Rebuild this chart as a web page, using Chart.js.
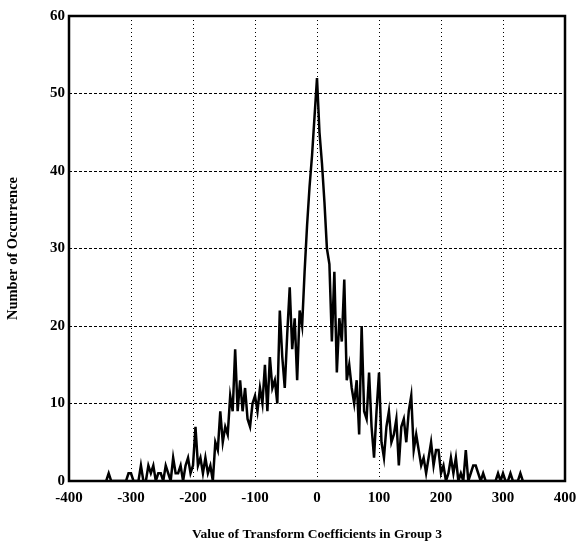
<!DOCTYPE html>
<html>
<head>
<meta charset="utf-8">
<script src="https://cdn.jsdelivr.net/npm/chart.js@4/dist/chart.umd.min.js"></script>
<style>
  html, body { margin: 0; padding: 0; background: #fff; }
  #wrap { width: 578px; height: 550px; }
</style>
</head>
<body>
<div id="wrap"><canvas id="myChart"></canvas></div>
<script>
// Histogram of transform coefficient values (bin centres, step 4)
const binCenters = [
  -340, -336, -332, -328, -324, -320, -316, -312, -308, -304, -300, -296, -292, -288,
  -284, -280, -276, -272, -268, -264, -260, -256, -252, -248, -244, -240, -236, -232,
  -228, -224, -220, -216, -212, -208, -204, -200, -196, -192, -188, -184, -180, -176,
  -172, -168, -164, -160, -156, -152, -148, -144, -140, -136, -132, -128, -124, -120,
  -116, -112, -108, -104, -100, -96, -92, -88, -84, -80, -76, -72, -68, -64,
  -60, -56, -52, -48, -44, -40, -36, -32, -28, -24, -20, -16, -12, -8,
  -4, 0, 4, 8, 12, 16, 20, 24, 28, 32, 36, 40, 44, 48,
  52, 56, 60, 64, 68, 72, 76, 80, 84, 88, 92, 96, 100, 104,
  108, 112, 116, 120, 124, 128, 132, 136, 140, 144, 148, 152, 156, 160,
  164, 168, 172, 176, 180, 184, 188, 192, 196, 200, 204, 208, 212, 216,
  220, 224, 228, 232, 236, 240, 244, 248, 252, 256, 260, 264, 268, 272,
  276, 280, 284, 288, 292, 296, 300, 304, 308, 312, 316, 320, 324, 328, 332
];
const counts = [
  0, 1, 0, 0, 0, 0, 0, 0, 0, 1, 1, 0, 0, 0,
  2, 0, 0, 2, 1, 2, 0, 1, 1, 0, 2, 1, 0, 3,
  1, 1, 2, 0, 2, 3, 1, 2, 7, 2, 3, 1, 3, 1,
  2, 0, 5, 4, 9, 5, 7, 6, 11, 9, 17, 9, 13, 9,
  12, 8, 7, 10, 11, 9, 12, 10, 15, 9, 16, 12, 13, 10,
  22, 16, 12, 19, 25, 17, 21, 13, 22, 20, 27, 33, 38, 42,
  47, 52, 45, 41, 36, 30, 28, 18, 27, 14, 21, 18, 26, 13,
  15, 12, 10, 13, 6, 20, 9, 8, 14, 7, 3, 9, 14, 5,
  3, 7, 9, 5, 6, 8, 2, 7, 8, 5, 9, 11, 4, 6,
  4, 2, 3, 1, 3, 5, 2, 4, 4, 1, 2, 0, 1, 3,
  1, 3, 0, 1, 0, 4, 0, 1, 2, 2, 1, 0, 1, 0,
  0, 0, 0, 0, 1, 0, 1, 0, 0, 1, 0, 0, 0, 1, 0
];
const xTicks = [-400, -300, -200, -100, 0, 100, 200, 300, 400];
const yTicks = [0, 10, 20, 30, 40, 50, 60];

const font = 'Liberation Serif, Times New Roman, serif';

// solid frame around the plot area
const framePlugin = {
  id: 'frame',
  afterDraw(chart) {
    const { ctx, chartArea: a } = chart;
    ctx.save();
    ctx.strokeStyle = '#000';
    ctx.lineWidth = 2.5;
    ctx.strokeRect(a.left, a.top, a.right - a.left, a.bottom - a.top);
    ctx.restore();
  }
};

document.addEventListener('DOMContentLoaded', () => {
  const ctx = document.getElementById('myChart').getContext('2d');
  new Chart(ctx, {
    type: 'scatter',
    data: {
      datasets: [{
        data: binCenters.map((x, i) => ({ x: x, y: counts[i] })),
        showLine: true,
        borderColor: '#000',
        borderWidth: 2.5,
        pointRadius: 0,
        tension: 0
      }]
    },
    options: {
      responsive: true,
      maintainAspectRatio: false,
      animation: false,
      layout: { padding: { top: 16, right: 13, left: 0, bottom: 0 } },
      plugins: { legend: { display: false }, tooltip: { enabled: false } },
      scales: {
        x: {
          type: 'linear',
          min: -400,
          max: 400,
          afterBuildTicks: s => { s.ticks = xTicks.map(v => ({ value: v })); },
          afterFit: s => { s.height = 69; s.paddingLeft = 0; s.paddingRight = 0; },
          grid: { color: '#000', lineWidth: 1, drawTicks: false },
          border: { display: false, dash: [1, 3] },
          ticks: {
            color: '#000',
            padding: 8,
            font: { family: font, size: 15, weight: 'bold' }
          },
          title: {
            display: true,
            text: 'Value of Transform Coefficients in Group 3',
            color: '#000',
            padding: { top: 0, bottom: 7 },
            font: { family: font, size: 13.5, weight: 'bold' }
          }
        },
        y: {
          min: 0,
          max: 60,
          afterBuildTicks: s => { s.ticks = yTicks.map(v => ({ value: v })); },
          afterFit: s => { s.width = 69; s.paddingTop = 0; s.paddingBottom = 0; },
          grid: { color: '#000', lineWidth: 1, drawTicks: false },
          border: { display: false, dash: [3, 2] },
          ticks: {
            color: '#000',
            padding: 4,
            font: { family: font, size: 15, weight: 'bold' }
          },
          title: {
            display: true,
            text: 'Number of Occurrence',
            color: '#000',
            padding: { top: 5, bottom: 0 },
            font: { family: font, size: 14.5, weight: 'bold' }
          }
        }
      }
    },
    plugins: [framePlugin]
  });
});
</script>
</body>
</html>
